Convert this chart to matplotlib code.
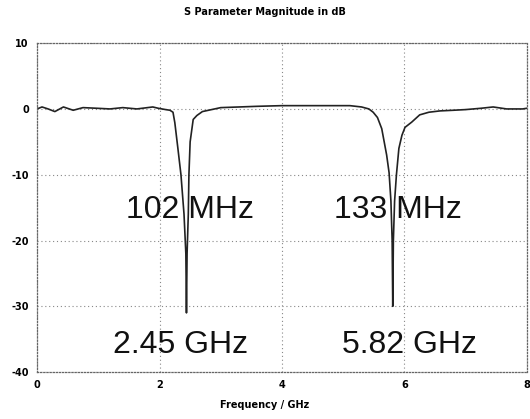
import numpy as np
import matplotlib
matplotlib.use("Agg")
import matplotlib.pyplot as plt

plt.rcParams["axes.unicode_minus"] = False

# S11 magnitude
freq_ghz = [0.0, 0.08, 0.18, 0.29, 0.43, 0.59, 0.75, 0.98, 1.19, 1.4, 1.63,
            1.89, 1.98, 2.1, 2.17, 2.22, 2.25, 2.30, 2.35, 2.40, 2.43, 2.44,
            2.45, 2.47, 2.48, 2.50, 2.55, 2.61, 2.7, 2.85, 3.0, 3.3, 3.6,
            4.0, 4.4, 4.8, 5.11, 5.3, 5.42, 5.49, 5.56, 5.63, 5.71, 5.75,
            5.78, 5.80, 5.81, 5.82, 5.84, 5.87, 5.91, 5.96, 6.01, 6.12,
            6.25, 6.4, 6.58, 6.8, 7.0, 7.25, 7.45, 7.67, 7.93, 8.0]
mag_db = [0.0, 0.3, 0.0, -0.4, 0.3, -0.2, 0.2, 0.1, 0.0, 0.2, 0.0,
          0.3, 0.1, -0.1, -0.2, -0.5, -2.1, -6.0, -10.0, -16.0, -22.0, -31.0,
          -22.0, -16.0, -10.0, -5.0, -1.6, -1.0, -0.4, -0.1, 0.2, 0.3, 0.4,
          0.5, 0.5, 0.5, 0.5, 0.3, 0.0, -0.5, -1.3, -3.0, -7.0, -9.7,
          -14.0, -20.0, -30.0, -20.0, -14.0, -10.0, -6.0, -4.0, -2.8, -2.0,
          -0.9, -0.5, -0.3, -0.2, -0.1, 0.1, 0.3, 0.0, 0.0, 0.1]

x_ticks = [0, 2, 4, 6, 8]
y_ticks = [10, 0, -10, -20, -30, -40]

bw_labels = ["102 MHz", "133 MHz"]
bw_pos = [(2.50, -15.3), (5.89, -15.3)]
fc_labels = ["2.45 GHz", "5.82 GHz"]
fc_pos = [(2.35, -35.9), (6.09, -35.9)]

fig = plt.figure(figsize=(5.30, 4.19), dpi=100)
ax = fig.add_axes([0.070, 0.112, 0.924, 0.785])

ax.plot(freq_ghz, mag_db, color="#222222", lw=1.2)

ax.set_xlim(0, 8)
ax.set_ylim(-40, 10)
ax.set_xticks(x_ticks)
ax.set_yticks(y_ticks)
ax.tick_params(length=0, labelsize=7, pad=6)
for lab in ax.get_xticklabels() + ax.get_yticklabels():
    lab.set_fontweight("bold")

ax.grid(True, color="#888888", linestyle=(0, (1, 2.5)), lw=0.8)
for s in ax.spines.values():
    s.set_linestyle((0, (1, 1.5)))
    s.set_color("#666666")
    s.set_linewidth(0.9)

for t, (x, y) in zip(bw_labels, bw_pos):
    ax.text(x, y, t, fontsize=23, ha="center", va="center",
            family="Liberation Sans", color="#111111")
for t, (x, y) in zip(fc_labels, fc_pos):
    ax.text(x, y, t, fontsize=23, ha="center", va="center",
            family="Liberation Sans", color="#111111")

fig.text(0.5, 0.972, "S Parameter Magnitude in dB", ha="center", va="center",
         fontsize=7, fontweight="bold")
fig.text(0.5, 0.033, "Frequency / GHz", ha="center", va="center",
         fontsize=7, fontweight="bold")

fig.savefig("out.png", dpi=100)
